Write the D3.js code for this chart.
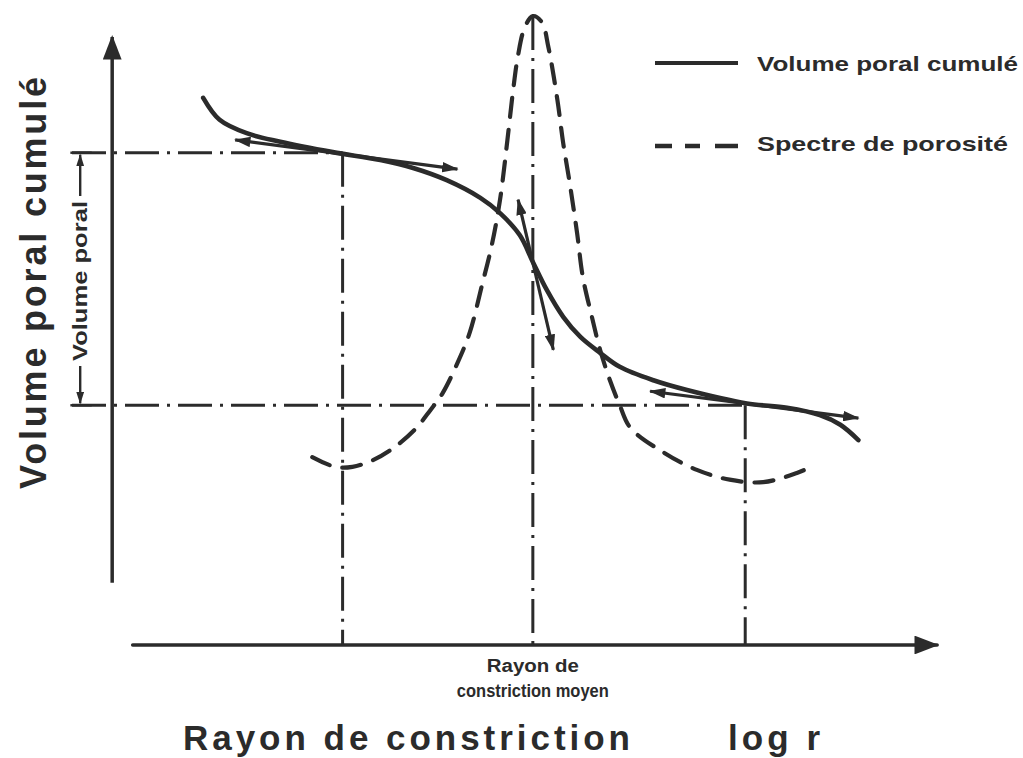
<!DOCTYPE html>
<html>
<head>
<meta charset="utf-8">
<script src="https://cdn.jsdelivr.net/npm/d3@7"></script>
<style>
  html, body { margin: 0; padding: 0; background: #fff; }
  svg { display: block; }
  text { font-family: "Liberation Sans", Arial, Helvetica, sans-serif; font-weight: bold; fill: #2b2b2b; }
</style>
</head>
<body>
<svg id="chart" width="1023" height="758"></svg>
<script>
// Courbe du volume poral cumulé (log r, volume)
const cumLogR   = [11.0, 13.0, 16.3, 20.4, 26.8, 32.6, 36.6, 40.7, 44.8, 47.2, 49.6, 51.2, 52.9, 54.9, 57.0, 59.4, 61.8, 65.9, 70.0, 77.3, 82.2, 86.2, 88.7, 90.9];
const cumVolume = [89.7, 86.1, 83.9, 82.5, 80.8, 79.5, 78.2, 76.2, 73.3, 70.8, 67.2, 62.8, 58.2, 53.8, 50.5, 47.9, 45.6, 43.4, 41.8, 39.6, 38.9, 37.7, 36.1, 33.6];

// Spectre de porosité (dérivée), même axe log r
const specLogR  = [24.3, 27.1, 29.2, 31.7, 34.2, 36.8, 38.7, 40.2, 42.0, 43.5, 45.0, 46.2, 47.2, 48.1, 48.8, 49.4, 50.2, 51.2, 52.3, 53.1, 54.2, 54.9, 55.7, 56.6, 57.3, 58.4, 59.4, 60.6, 61.8, 63.1, 67.1, 71.2, 75.2, 79.3, 83.4, 84.8];
const specValue = [30.8, 29.2, 29.2, 30.3, 32.3, 35.3, 38.5, 41.3, 46.2, 51.2, 59.0, 65.6, 73.0, 82.8, 91.0, 96.7, 101.2, 103.1, 102.1, 98.0, 89.3, 82.3, 75.7, 67.5, 60.3, 53.8, 48.4, 43.4, 39.3, 35.6, 31.6, 28.7, 27.1, 26.7, 28.2, 29.0];

// Niveaux de volume délimitant le volume poral, et rayons remarquables
const volumeLevels = [80.7, 39.3];
const keyRadii     = [28.0, 51.2, 77.1];
const peakValue    = 103.1;

// Tangentes tracées aux trois points remarquables : [x0, y0, x1, y1]
const tangentX0 = [14.9, 49.4, 65.5];
const tangentY0 = [82.8, 73.0, 41.6];
const tangentX1 = [42.0, 53.7, 90.9];
const tangentY1 = [78.0, 48.4, 37.2];

// Textes
const yTitle      = "Volume poral cumulé";
const xTitle      = "Rayon de constriction";
const xUnit       = "log r";
const meanLabel   = ["Rayon de", "constriction  moyen"];
const spanLabel   = "Volume  poral";
const legendNames = ["Volume  poral cumulé", "Spectre  de porosité"];

const ink = "#2b2b2b";
const svg = d3.select("#chart");

const x = d3.scaleLinear().domain([0, 100]).range([113, 933]);
const y = d3.scaleLinear().domain([0, 100]).range([645, 35]);

// Flèches
const defs = svg.append("defs");
defs.append("marker")
  .attr("id", "tip")
  .attr("viewBox", "0 0 14 9")
  .attr("refX", 13).attr("refY", 4.5)
  .attr("markerWidth", 5.2).attr("markerHeight", 3.3)
  .attr("markerUnits", "strokeWidth")
  .attr("orient", "auto-start-reverse")
  .append("path").attr("d", "M0,0 L14,4.5 L0,9 Z").attr("fill", ink);

defs.append("marker")
  .attr("id", "axisTip")
  .attr("viewBox", "0 0 13 10")
  .attr("refX", 12).attr("refY", 5)
  .attr("markerWidth", 7).attr("markerHeight", 5.4)
  .attr("markerUnits", "strokeWidth")
  .attr("orient", "auto")
  .append("path").attr("d", "M0,0 L13,5 L0,10 Z").attr("fill", ink);

// Axes
svg.append("line")
  .attr("x1", x(-0.1)).attr("y1", y(10.2))
  .attr("x2", x(-0.1)).attr("y2", y(100) + 2)
  .attr("stroke", ink).attr("stroke-width", 3.5)
  .attr("marker-end", "url(#axisTip)");
svg.append("line")
  .attr("x1", x(2.4)).attr("y1", y(0))
  .attr("x2", x(100.5)).attr("y2", y(0))
  .attr("stroke", ink).attr("stroke-width", 3.5)
  .attr("stroke-linecap", "round")
  .attr("marker-end", "url(#axisTip)");

// Lignes de rappel en trait mixte
const dashDot = "34,8,3,8";
const guides = svg.append("g")
  .attr("stroke", ink).attr("stroke-width", 3)
  .attr("stroke-dasharray", dashDot).attr("fill", "none");
guides.append("line")
  .attr("x1", x(-5)).attr("y1", y(volumeLevels[0]))
  .attr("x2", x(keyRadii[0])).attr("y2", y(volumeLevels[0]));
guides.append("line")
  .attr("x1", x(-5)).attr("y1", y(volumeLevels[1]))
  .attr("x2", x(keyRadii[2])).attr("y2", y(volumeLevels[1]));
guides.append("line")
  .attr("x1", x(keyRadii[0])).attr("y1", y(volumeLevels[0]))
  .attr("x2", x(keyRadii[0])).attr("y2", y(0));
guides.append("line")
  .attr("x1", x(keyRadii[1])).attr("y1", y(peakValue))
  .attr("x2", x(keyRadii[1])).attr("y2", y(0));
guides.append("line")
  .attr("x1", x(keyRadii[2])).attr("y1", y(volumeLevels[1]))
  .attr("x2", x(keyRadii[2])).attr("y2", y(0));

// Cote "Volume poral" à gauche de l'axe
const spanX = x(-4);
const dim = svg.append("g").attr("stroke", ink).attr("stroke-width", 2.4);
dim.append("line").attr("x1", x(-5.2)).attr("x2", x(-2.6))
  .attr("y1", y(volumeLevels[0])).attr("y2", y(volumeLevels[0]));
dim.append("line").attr("x1", x(-5.2)).attr("x2", x(-2.6))
  .attr("y1", y(volumeLevels[1])).attr("y2", y(volumeLevels[1]));
dim.append("line").attr("x1", spanX).attr("x2", spanX)
  .attr("y1", 196).attr("y2", y(volumeLevels[0]) + 2)
  .attr("marker-end", "url(#tip)");
dim.append("line").attr("x1", spanX).attr("x2", spanX)
  .attr("y1", 366).attr("y2", y(volumeLevels[1]) - 2)
  .attr("marker-end", "url(#tip)");
svg.append("text")
  .attr("transform", `translate(${spanX + 7},281) rotate(-90)`)
  .attr("text-anchor", "middle")
  .attr("font-size", 20)
  .attr("textLength", 160).attr("lengthAdjust", "spacingAndGlyphs")
  .text(spanLabel);

// Courbes
const line = d3.line()
  .x(d => x(d[0])).y(d => y(d[1]))
  .curve(d3.curveCatmullRom.alpha(0.5));

const cumData  = cumLogR.map((v, i) => [v, cumVolume[i]]);
const specData = specLogR.map((v, i) => [v, specValue[i]]);

svg.append("path")
  .attr("d", line(specData))
  .attr("fill", "none").attr("stroke", ink)
  .attr("stroke-width", 4.2)
  .attr("stroke-dasharray", "19,13")
  .attr("stroke-linecap", "round");

svg.append("path")
  .attr("d", line(cumData))
  .attr("fill", "none").attr("stroke", ink)
  .attr("stroke-width", 4.6)
  .attr("stroke-linecap", "round");

// Tangentes fléchées
svg.append("g").selectAll("line")
  .data(tangentX0.map((v, i) => [v, tangentY0[i], tangentX1[i], tangentY1[i]]))
  .join("line")
  .attr("x1", d => x(d[0])).attr("y1", d => y(d[1]))
  .attr("x2", d => x(d[2])).attr("y2", d => y(d[3]))
  .attr("stroke", ink).attr("stroke-width", 3.2)
  .attr("marker-start", "url(#tip)")
  .attr("marker-end", "url(#tip)");

// Titres des axes
svg.append("text")
  .attr("transform", "translate(46,283) rotate(-90)")
  .attr("text-anchor", "middle")
  .attr("font-size", 36)
  .attr("textLength", 412).attr("lengthAdjust", "spacing")
  .text(yTitle);

svg.append("text")
  .attr("x", 183).attr("y", 750)
  .attr("font-size", 35)
  .attr("textLength", 447).attr("lengthAdjust", "spacing")
  .text(xTitle);

svg.append("text")
  .attr("x", 728).attr("y", 750)
  .attr("font-size", 35)
  .attr("textLength", 92).attr("lengthAdjust", "spacing")
  .text(xUnit);

// Libellé sous l'axe au rayon moyen
svg.append("text")
  .attr("x", x(keyRadii[1])).attr("y", 672)
  .attr("text-anchor", "middle").attr("font-size", 18)
  .attr("textLength", 92).attr("lengthAdjust", "spacingAndGlyphs")
  .text(meanLabel[0]);
svg.append("text")
  .attr("x", x(keyRadii[1])).attr("y", 697)
  .attr("text-anchor", "middle").attr("font-size", 18)
  .attr("textLength", 152).attr("lengthAdjust", "spacingAndGlyphs")
  .text(meanLabel[1]);

// Légende
const legend = svg.append("g");
legend.append("line")
  .attr("x1", 655).attr("x2", 738).attr("y1", 63).attr("y2", 63)
  .attr("stroke", ink).attr("stroke-width", 4);
legend.append("line")
  .attr("x1", 655).attr("x2", 738).attr("y1", 146).attr("y2", 146)
  .attr("stroke", ink).attr("stroke-width", 4.5)
  .attr("stroke-dasharray", "17,13,15,15,23");
legend.append("text")
  .attr("x", 757).attr("y", 71).attr("font-size", 21)
  .attr("textLength", 261).attr("lengthAdjust", "spacingAndGlyphs")
  .text(legendNames[0]);
legend.append("text")
  .attr("x", 757).attr("y", 151).attr("font-size", 21)
  .attr("textLength", 251).attr("lengthAdjust", "spacingAndGlyphs")
  .text(legendNames[1]);
</script>
</body>
</html>
